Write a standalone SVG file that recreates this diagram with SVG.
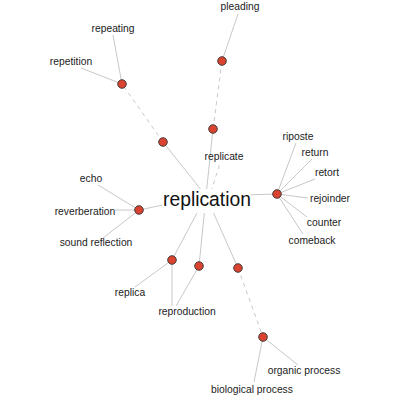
<svg xmlns="http://www.w3.org/2000/svg" width="400" height="400" viewBox="0 0 400 400">
<style>
.e{stroke:#c8c8c8;stroke-width:1;fill:none}
.d{stroke:#c8c8c8;stroke-width:1;fill:none;stroke-dasharray:4,4}
.n{fill:#d9432f;stroke:#333;stroke-width:0.9}
.t{font-family:"Liberation Sans",Arial,sans-serif;font-size:10.3px;fill:#222;text-anchor:middle}
.c{font-family:"Liberation Sans",Arial,sans-serif;font-size:19.3px;fill:#111;text-anchor:middle}
</style>
<rect width="400" height="400" fill="#fff"/>
<g id="connectors">
<line class="e" x1="206" y1="196" x2="163" y2="142"/>
<line class="d" x1="163" y1="142" x2="122" y2="84"/>
<line class="e" x1="122" y1="84" x2="113" y2="35"/>
<line class="e" x1="122" y1="84" x2="81" y2="68"/>
<line class="e" x1="206" y1="196" x2="213" y2="129"/>
<line class="d" x1="213" y1="129" x2="222" y2="61"/>
<line class="e" x1="222" y1="61" x2="238" y2="14"/>
<line class="d" x1="211" y1="192" x2="220" y2="163"/>
<line class="e" x1="206" y1="196" x2="277" y2="194"/>
<line class="e" x1="277" y1="194" x2="296" y2="143"/>
<line class="e" x1="277" y1="194" x2="312" y2="159"/>
<line class="e" x1="277" y1="194" x2="315" y2="179"/>
<line class="e" x1="277" y1="194" x2="308" y2="198"/>
<line class="e" x1="277" y1="194" x2="307" y2="217"/>
<line class="e" x1="277" y1="194" x2="303" y2="234"/>
<line class="e" x1="206" y1="196" x2="139" y2="210"/>
<line class="e" x1="139" y1="210" x2="98" y2="185"/>
<line class="e" x1="139" y1="210" x2="115" y2="210"/>
<line class="e" x1="139" y1="210" x2="103" y2="238"/>
<line class="e" x1="206" y1="196" x2="172" y2="260"/>
<line class="e" x1="172" y1="260" x2="135" y2="287"/>
<line class="e" x1="172" y1="260" x2="172" y2="306"/>
<line class="e" x1="206" y1="196" x2="199" y2="266"/>
<line class="e" x1="199" y1="266" x2="176" y2="306"/>
<line class="e" x1="206" y1="196" x2="238" y2="268"/>
<line class="d" x1="238" y1="268" x2="263" y2="337"/>
<line class="e" x1="263" y1="337" x2="298" y2="365"/>
<line class="e" x1="263" y1="337" x2="254" y2="382"/>
</g>
<g id="replication">
<rect x="162" y="189" width="89" height="24" fill="#fff"/>
<text class="c" x="207" y="206">replication</text>
</g>
<g id="n1"><circle class="n" cx="163" cy="142" r="4.3"/></g>
<g id="n2"><circle class="n" cx="122" cy="84" r="4.3"/></g>
<g id="n3"><circle class="n" cx="213" cy="129" r="4.3"/></g>
<g id="n4"><circle class="n" cx="222" cy="61" r="4.3"/></g>
<g id="n5"><circle class="n" cx="277" cy="194" r="4.3"/></g>
<g id="n6"><circle class="n" cx="139" cy="210" r="4.3"/></g>
<g id="n7"><circle class="n" cx="172" cy="260" r="4.3"/></g>
<g id="n8"><circle class="n" cx="199" cy="266" r="4.3"/></g>
<g id="n9"><circle class="n" cx="238" cy="268" r="4.3"/></g>
<g id="n10"><circle class="n" cx="263" cy="337" r="4.3"/></g>
<g id="repeating"><text class="t" x="113" y="32">repeating</text></g>
<g id="repetition"><text class="t" x="71" y="65">repetition</text></g>
<g id="pleading"><text class="t" x="240" y="10">pleading</text></g>
<g id="replicate"><text class="t" x="224" y="160">replicate</text></g>
<g id="riposte"><text class="t" x="298" y="140">riposte</text></g>
<g id="return"><text class="t" x="315" y="156">return</text></g>
<g id="retort"><text class="t" x="327" y="176">retort</text></g>
<g id="rejoinder"><text class="t" x="330" y="202">rejoinder</text></g>
<g id="counter"><text class="t" x="324" y="226">counter</text></g>
<g id="comeback"><text class="t" x="312" y="244">comeback</text></g>
<g id="echo"><text class="t" x="91" y="182">echo</text></g>
<g id="reverberation"><text class="t" x="85" y="215">reverberation</text></g>
<g id="sound-reflection"><text class="t" x="96" y="246">sound reflection</text></g>
<g id="replica"><text class="t" x="130" y="296">replica</text></g>
<g id="reproduction"><text class="t" x="187" y="315">reproduction</text></g>
<g id="organic-process"><text class="t" x="304" y="374">organic process</text></g>
<g id="biological-process"><text class="t" x="252" y="393">biological process</text></g>
</svg>
